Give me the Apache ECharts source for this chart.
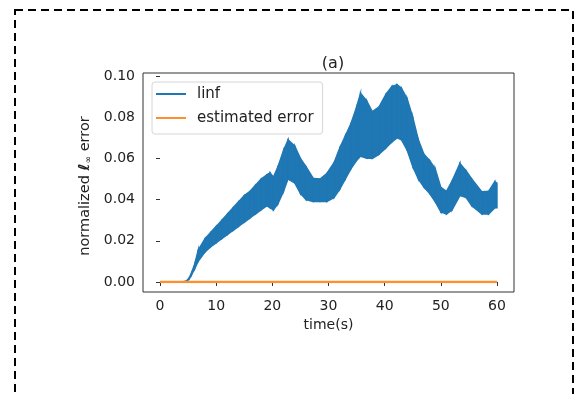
<!DOCTYPE html>
<html>
<head>
<meta charset="utf-8">
<script src="https://cdn.jsdelivr.net/npm/echarts@6/dist/echarts.min.js"></script>
<style>
  html, body { margin: 0; padding: 0; background: #fff; }
  #main { width: 579px; height: 394px; }
</style>
</head>
<body>
<div id="main"></div>
<script>
// time axis (s) and the envelope of the oscillating linf band
const timeS = [0, 4, 4.7, 5.2, 5.6, 6.2, 6.8, 8, 9, 10, 11, 12, 13, 14, 15, 16, 17, 18, 19, 19.6,
    20.2, 21, 22, 22.8, 24, 25, 26, 27.3, 28.5, 29.7, 31, 32, 33, 34, 35, 35.7, 36.8, 37.8, 39, 40.2,
    41.3, 42.2, 43, 44, 45, 46, 47, 48, 49, 50, 51, 52, 53.4, 54.5, 55.5, 57.3, 58.5, 59.6, 60];
const linfUpper = [0, 0, 0.0005, 0.002, 0.0044, 0.009, 0.0155, 0.021, 0.024, 0.027, 0.030, 0.033, 0.036, 0.039, 0.042, 0.044, 0.047, 0.050, 0.052, 0.053,
    0.051, 0.056, 0.064, 0.069, 0.066, 0.060, 0.056, 0.0503, 0.050, 0.0527, 0.058, 0.065, 0.071, 0.077, 0.085, 0.0916, 0.088, 0.0827, 0.085, 0.091,
    0.0950, 0.0958, 0.094, 0.089, 0.080, 0.069, 0.062, 0.059, 0.055, 0.046, 0.044, 0.049, 0.0576, 0.054, 0.050, 0.0438, 0.044, 0.0487, 0.048];
const linfLower = [0, 0, 0.0003, 0.0015, 0.0033, 0.0065, 0.010, 0.0145, 0.017, 0.019, 0.021, 0.023, 0.025, 0.027, 0.029, 0.031, 0.033, 0.035, 0.037, 0.036,
    0.035, 0.038, 0.044, 0.050, 0.048, 0.043, 0.040, 0.039, 0.039, 0.039, 0.041, 0.045, 0.050, 0.055, 0.059, 0.061, 0.060, 0.060, 0.062, 0.065,
    0.068, 0.070, 0.069, 0.064, 0.056, 0.050, 0.046, 0.043, 0.039, 0.034, 0.033, 0.035, 0.042, 0.041, 0.037, 0.033, 0.033, 0.036, 0.036];
const estTime = [0, 60];
const estError = [0, 0];
const xTicks = [0, 60, 10];     // min, max, step
const yTicks = [0, 0.1, 0.02];

const font = 'DejaVu Sans';
const blue = '#1f77b4';
const orange = '#ff8f2e';
const chart = echarts.init(document.getElementById('main'));

// one filled quad per time step, between lower and upper envelope
function renderBand(params, api)
{
    const i = params.dataIndex;
    if (i >= timeS.length - 1) return null;
    const pts = [
        api.coord([timeS[i], linfUpper[i]]),
        api.coord([timeS[i + 1], linfUpper[i + 1]]),
        api.coord([timeS[i + 1], linfLower[i + 1]]),
        api.coord([timeS[i], linfLower[i]])
    ];
    return {
        type: 'polygon',
        shape: { points: pts },
        style: { fill: blue, stroke: blue, lineWidth: 1.4 }
    };
}

const option = {
    animation: false,
    title: {
        text: '(a)',
        left: 328,
        top: 51,
        textAlign: 'center',
        textStyle: { fontFamily: font, fontSize: 16, fontWeight: 'normal', color: '#222' }
    },
    legend: {
        data: ['linf', 'estimated error'],
        orient: 'vertical',
        left: 152,
        top: 82,
        icon: 'rect',
        itemWidth: 30,
        itemHeight: 2,
        itemGap: 8,
        padding: [4, 9, 8, 4],
        backgroundColor: '#fff',
        borderColor: '#d6d6d6',
        borderWidth: 1,
        borderRadius: 3,
        textStyle: { fontFamily: font, fontSize: 15, color: '#222', lineHeight: 16, padding: [0, 0, 0, 6] }
    },
    grid: [
        { left: 160, right: 82, top: 76, bottom: 112 },
        // frame of the axes box
        { left: 143, right: 65, top: 73, bottom: 102, show: true, borderColor: '#333', borderWidth: 1, backgroundColor: 'transparent' }
    ],
    xAxis: [
        {
            type: 'value', min: xTicks[0], max: xTicks[1], interval: xTicks[2],
            offset: 10,
            name: 'time(s)', nameLocation: 'middle', nameGap: 25,
            nameTextStyle: { fontFamily: font, fontSize: 14, color: '#222' },
            axisLine: { show: false },
            axisTick: { show: true, length: 4, lineStyle: { color: '#333' } },
            axisLabel: { fontFamily: font, fontSize: 14, color: '#222', margin: 7 },
            splitLine: { show: false }
        },
        { gridIndex: 1, type: 'value', show: false }
    ],
    yAxis: [
        {
            type: 'value', min: yTicks[0], max: yTicks[1], interval: yTicks[2],
            offset: 17,
            name: 'normalized {i|ℓ}{s|∞} error', nameLocation: 'middle', nameGap: 48,
            nameTextStyle: {
                fontFamily: font, fontSize: 14.5, color: '#222',
                padding: [0, 14, 0, 0],
                rich: {
                    i: { fontFamily: font, fontSize: 15, fontStyle: 'italic', fontWeight: 'bold', color: '#222' },
                    s: { fontFamily: font, fontSize: 9, color: '#222', verticalAlign: 'bottom' }
                }
            },
            axisLine: { show: false },
            axisTick: { show: true, length: 4, lineStyle: { color: '#333' } },
            axisLabel: {
                fontFamily: font, fontSize: 14, color: '#222', margin: 8,
                formatter: v => v.toFixed(2)
            },
            splitLine: { show: false }
        },
        { gridIndex: 1, type: 'value', show: false }
    ],
    series: [
        {
            name: 'linf',
            type: 'custom',
            color: blue,
            renderItem: renderBand,
            encode: { x: 0, y: [1, 2] },
            data: timeS.map((t, i) => [t, linfLower[i], linfUpper[i]]),
            z: 2
        },
        {
            name: 'estimated error',
            type: 'line',
            symbol: 'none',
            color: orange,
            lineStyle: { color: orange, width: 2.5 },
            data: estTime.map((t, i) => [t, estError[i]]),
            z: 3
        }
    ],
    graphic: [
        {
            type: 'rect',
            silent: true,
            shape: { x: 15, y: 10, width: 558, height: 400 },
            style: { fill: 'none', stroke: '#000', lineWidth: 2, lineDash: [8, 5] }
        }
    ]
};

chart.setOption(option);
</script>
</body>
</html>
